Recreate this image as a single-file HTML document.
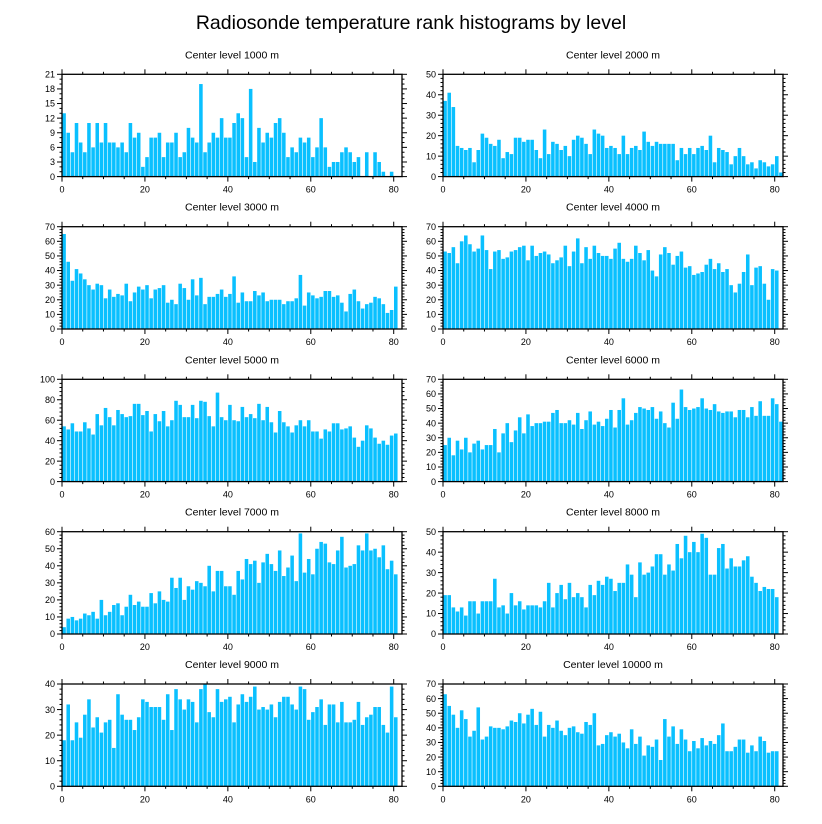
<!DOCTYPE html>
<html><head><meta charset="utf-8"><style>
html,body{margin:0;padding:0;background:#fff;}
svg{display:block;font-family:"Liberation Sans",Arial,sans-serif;}
</style></head><body>
<svg id="chart" width="822" height="824" viewBox="0 0 822 824">
<text x="411" y="29" text-anchor="middle" font-size="19.5" fill="#000">Radiosonde temperature rank histograms by level</text>
</svg>
<script>
const levels = ["1000","2000","3000","4000","5000","6000","7000","8000","9000","10000"];
const yMaxes = [21,50,70,70,100,70,60,50,40,70];
const ySteps = [3,10,10,10,20,10,10,10,10,10];
const xTicks = [0,20,40,60,80];
const v1000 = [13,9,5,11,7,5,11,6,11,7,11,7,7,6,7,5,11,8,9,2,4,8,8,9,4,7,7,9,4,5,10,8,7,19,5,7,9,8,12,8,8,11,13,12,4,18,3,10,7,9,8,11,12,9,4,6,5,8,7,8,4,6,12,6,2,3,3,5,6,5,3,4,0,5,0,5,3,1,0,1,0,0];
const v2000 = [37,41,34,15,14,13,14,7,13,21,19,16,15,18,9,12,11,19,19,17,18,18,13,9,23,11,17,16,13,15,10,18,20,19,16,11,23,21,20,14,15,14,11,20,11,14,15,13,22,17,15,17,16,16,16,16,8,14,11,14,11,14,15,13,20,7,14,13,12,6,10,14,10,6,7,4,8,7,5,6,10,2];
const v3000 = [65,46,33,41,38,34,30,27,31,30,21,27,22,24,23,31,19,25,29,27,30,21,27,28,30,18,20,17,31,28,20,34,23,35,17,22,22,24,27,22,24,36,18,25,19,19,26,23,25,19,20,20,20,17,19,19,21,37,16,25,23,21,22,26,26,22,23,18,12,24,27,19,14,17,18,22,21,17,11,13,29];
const v4000 = [53,52,56,45,60,64,58,53,55,64,54,41,53,54,48,49,53,54,56,57,47,57,50,52,53,51,45,47,49,57,43,53,62,45,56,48,57,52,50,50,48,55,59,48,46,48,57,52,47,54,40,36,51,56,52,44,50,53,42,43,37,38,39,44,48,41,45,39,41,30,25,31,39,51,30,42,43,31,20,41,40];
const v5000 = [54,51,57,49,49,58,52,46,66,55,72,63,55,70,66,63,64,76,76,65,69,49,66,59,69,54,60,79,75,63,63,75,62,79,78,64,54,87,63,60,75,60,59,73,63,66,62,76,60,73,58,48,69,58,54,48,55,60,54,60,49,49,42,51,49,57,57,51,52,54,43,34,40,55,52,43,37,40,36,45,47];
const v6000 = [25,30,18,28,22,30,20,26,28,22,25,25,36,20,33,40,27,35,44,33,46,38,40,40,41,41,47,49,40,40,42,39,47,36,42,48,39,41,38,43,49,37,49,57,39,42,47,51,50,49,51,43,48,40,37,54,43,63,51,49,50,51,57,50,49,53,48,47,48,48,44,49,49,44,51,45,55,45,45,57,53,41];
const v7000 = [4,9,10,8,9,12,11,13,9,20,11,13,17,18,11,16,23,17,19,16,16,24,18,25,20,19,33,27,33,20,28,26,31,30,28,40,25,37,37,28,28,23,37,32,44,41,43,30,42,47,41,37,49,34,39,46,31,59,36,44,35,50,54,53,42,41,49,57,39,40,41,52,49,59,49,50,45,52,38,43,35];
const v8000 = [19,19,13,11,13,9,16,16,10,16,16,16,27,13,14,10,20,14,16,12,14,14,14,13,16,25,13,20,24,17,25,18,20,18,13,24,19,26,24,28,27,21,25,25,34,29,18,35,29,30,33,39,39,29,34,31,44,37,48,40,45,40,49,47,29,29,42,44,32,37,33,33,36,38,28,25,21,23,22,22,18];
const v9000 = [18,32,18,25,19,28,34,23,27,21,25,26,15,36,28,26,26,22,27,34,33,31,31,31,26,36,22,38,34,30,34,33,25,38,40,29,27,38,33,34,35,25,32,36,33,35,39,30,31,30,32,27,33,35,35,32,30,39,38,26,29,31,34,24,32,32,25,33,25,25,26,33,24,27,28,31,31,24,21,39,27];
const v10000 = [63,55,49,40,52,46,34,38,54,32,34,41,40,40,39,41,45,44,50,43,49,53,42,51,34,42,40,45,38,35,40,41,37,36,44,42,50,28,29,35,37,34,36,30,26,39,29,34,21,28,27,32,18,46,34,41,29,39,32,24,31,26,33,28,31,29,35,43,24,24,27,32,32,23,28,24,34,31,23,24,24];
const allValues = [v1000,v2000,v3000,v4000,v5000,v6000,v7000,v8000,v9000,v10000];

const NS = "http://www.w3.org/2000/svg";
const svg = document.getElementById("chart");
const XDOM = 82;
const colX = [62, 443];
const PW = 340;
const rowY = [74.3, 226.7, 379.3, 531.7, 684];
const PH = 102.3;

function mk(tag, attrs, parent) {
  const e = document.createElementNS(NS, tag);
  for (const k in attrs) e.setAttribute(k, attrs[k]);
  parent.appendChild(e);
  return e;
}

levels.forEach((lev, p) => {
  const col = p % 2, row = Math.floor(p / 2);
  const x0 = colX[col], y0 = rowY[row];
  const ymax = yMaxes[p], ystep = ySteps[p];
  const vals = allValues[p];
  const xs = v => x0 + v / XDOM * PW;
  const ys = v => y0 + PH - v / ymax * PH;

  const g = mk("g", {}, svg);
  
  

  const t = mk("text", {x: x0 + PW / 2, y: y0 - 16, "text-anchor": "middle", "font-size": "10.5"}, g);
  t.textContent = "Center level " + lev + " m";
  
  

  const bars = mk("g", {}, g);
  
  
  vals.forEach((v, i) => {
    const bx = xs(i), bw = xs(i + 1) - bx;
    const r = mk("rect", {x: bx + 0.3, y: ys(v), width: Math.max(bw - 0.6, 0.5), height: ys(0) - ys(v), fill: "#0AC0FF"}, bars);
    
    
  });

  const fr = mk("rect", {x: x0, y: y0, width: PW, height: PH, fill: "none", stroke: "#000", "stroke-width": "1.3"}, g);
  
  

  const ax = mk("g", {stroke: "#000", "stroke-width": "1"}, g);
  
  
  for (let m = 0; m <= XDOM; m += 5) {
    const x = xs(m), L = (m % 20 === 0) ? 5 : 2.5;
    mk("line", {x1: x, x2: x, y1: y0 + PH, y2: y0 + PH + L}, ax);
    mk("line", {x1: x, x2: x, y1: y0, y2: y0 - L}, ax);
  }
  const minor = ystep === 3 ? 1 : ystep / 5;
  for (let k = 0; k <= Math.round(ymax / minor); k++) {
    const v = k * minor, y = ys(v);
    const major = Math.abs(v / ystep - Math.round(v / ystep)) < 1e-6;
    const L = major ? 5 : 2.5;
    mk("line", {x1: x0, x2: x0 - L, y1: y, y2: y}, ax);
    mk("line", {x1: x0 + PW, x2: x0 + PW + L, y1: y, y2: y}, ax);
  }

  xTicks.forEach(xt => {
    const tl = mk("text", {x: xs(xt), y: y0 + PH + 16, "text-anchor": "middle", "font-size": "9"}, g);
    tl.textContent = xt;
    
    
  });
  for (let v = 0; v <= ymax; v += ystep) {
    const tl = mk("text", {x: x0 - 7, y: ys(v) + 3.2, "text-anchor": "end", "font-size": "9"}, g);
    tl.textContent = v;
    
    
  }
});
</script>
</body></html>
